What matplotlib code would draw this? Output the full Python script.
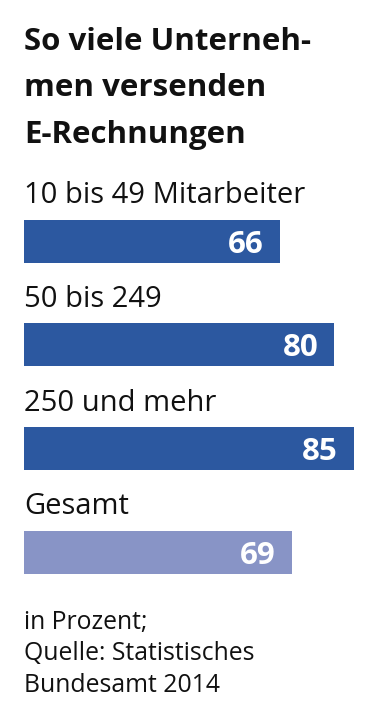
import matplotlib.pyplot as plt

# data
categories = ["10 bis 49 Mitarbeiter", "50 bis 249", "250 und mehr", "Gesamt"]
values = [66, 80, 85, 69]
colors = ["#2c58a0", "#2c58a0", "#2c58a0", "#8894c6"]
title_lines = ["So viele Unterneh-", "men versenden", "E-Rechnungen"]
note_lines = ["in Prozent;", "Quelle: Statistisches", "Bundesamt 2014"]

plt.rcParams['font.family'] = ['Open Sans', 'DejaVu Sans']

W, H = 378, 717
fig = plt.figure(figsize=(W / 100, H / 100), dpi=100)
fig.patch.set_facecolor("white")

# axes over the whole figure; x=0 sits 24 px from the left edge
px_per_unit = 3.88
px_per_row = 103.8
first_center = 241
ax = fig.add_axes([0, 0, 1, 1])
ax.set_xlim(-24 / px_per_unit, (W - 24) / px_per_unit)
ax.set_ylim((H - first_center) / px_per_row, -first_center / px_per_row)
ax.axis("off")

ypos = list(range(len(categories)))
ax.barh(ypos, values, height=43 / px_per_row, color=colors, left=0)

for y, cat, v in zip(ypos, categories, values):
    ax.text(0, y - 38 / px_per_row, cat, fontsize=21, color="#111111",
            ha="left", va="baseline")
    ax.text(v - 16 / px_per_unit, y + 11.5 / px_per_row, str(v), fontsize=22.5,
            fontweight="bold", color="white", ha="right", va="baseline")

for i, line in enumerate(title_lines):
    fig.text(24 / W, 1 - (50 + 46.5 * i) / H, line, fontsize=22.5,
             fontweight="bold", color="#111111", ha="left", va="baseline")

for i, line in enumerate(note_lines):
    fig.text(24 / W, 1 - (629 + 31.5 * i) / H, line, fontsize=17.8,
             color="#111111", ha="left", va="baseline")

fig.savefig("out.png", dpi=100, facecolor="white")
